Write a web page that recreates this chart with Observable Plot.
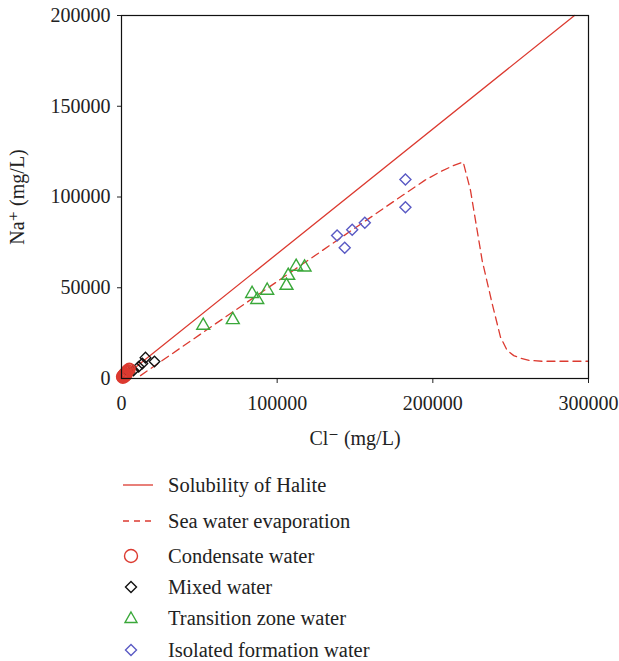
<!DOCTYPE html>
<html>
<head>
<meta charset="utf-8">
<script src="https://cdn.jsdelivr.net/npm/d3@7"></script>
<script src="https://cdn.jsdelivr.net/npm/@observablehq/plot@0.6"></script>
<style>
  html, body { margin: 0; padding: 0; background: #fff; }
  #wrap { position: relative; width: 619px; height: 661px; font-family: "Liberation Serif", "DejaVu Serif", serif; }
  #legend { position: absolute; left: 0; top: 0; width: 619px; }
  .row { position: absolute; left: 118px; height: 30px; display: flex; align-items: center; font-size: 20.5px; color: #222; }
  .row svg { width: 40px; height: 30px; margin-right: 10px; }
</style>
</head>
<body>
<div id="wrap"><div id="chart"></div><div id="legend"></div></div>
<script>
// ---- data ----
const xTicks = [0, 100000, 200000, 300000];
const yTicks = [0, 50000, 100000, 150000, 200000];

// Solubility of halite line (Cl, Na)
const haliteCl = [0, 291000];
const haliteNa = [0, 200000];

// Sea water evaporation curve (Cl, Na)
const seaCl = [12200, 60000, 120000, 170000, 195000, 205000, 214000, 219500, 224200, 231700, 238100, 243500, 247800, 252000, 256300, 262000, 270000, 300000];
const seaNa = [1600, 29900, 65200, 94700, 109300, 114000, 117600, 119300, 103600, 65000, 41300, 22700, 15400, 12600, 11200, 10000, 9500, 9500];

// Condensate water
const condCl = [600, 1200, 1800, 2500, 3200, 4000, 5000, 900, 2000, 3000];
const condNa = [1000, 1500, 2200, 2800, 3600, 4400, 5200, 600, 1200, 2000];

// Mixed water
const mixCl = [15400, 21200, 13400, 11000, 7700, 5100, 3200, 1900];
const mixNa = [11500, 9400, 8300, 6500, 4400, 3300, 2200, 1500];

// Transition zone water
const transCl = [52500, 71500, 83900, 87200, 93600, 106000, 107100, 112200, 117600];
const transNa = [29200, 32300, 46700, 43400, 48500, 51200, 56700, 61700, 61300];

// Isolated formation water
const isoCl = [182400, 182400, 156300, 148200, 138500, 143400];
const isoNa = [109600, 94400, 85800, 81900, 78800, 72000];

const legendLabels = ["Solubility of Halite", "Sea water evaporation", "Condensate water", "Mixed water", "Transition zone water", "Isolated formation water"];

// ---- build tables ----
const zip = (xs, ys) => xs.map((x, i) => ({cl: x, na: ys[i]}));
const halite = zip(haliteCl, haliteNa);
const sea = zip(seaCl, seaNa);
const cond = zip(condCl, condNa);
const mix = zip(mixCl, mixNa);
const trans = zip(transCl, transNa);
const iso = zip(isoCl, isoNa);

const RED = "#dc3a30";
const GREEN = "#3aa83a";
const BLUE = "#5a5ac4";

// square rotated 45° (equal-diagonal diamond)
const diamond = {
  draw(ctx, size) {
    const r = Math.sqrt(size / 2);
    ctx.moveTo(0, -r); ctx.lineTo(r, 0); ctx.lineTo(0, r); ctx.lineTo(-r, 0); ctx.closePath();
  }
};

const chart = Plot.plot({
  width: 619,
  height: 455,
  marginLeft: 121,
  marginRight: 31,
  marginTop: 15,
  marginBottom: 77,
  style: { fontFamily: "Liberation Serif, DejaVu Serif, serif", fontSize: "20px", color: "#222", background: "#fff" },
  x: { domain: [0, 300000], ticks: xTicks, tickFormat: d3.format("d"), tickSize: 5, tickPadding: 12, label: "Cl⁻ (mg/L)", labelAnchor: "center", labelArrow: "none", labelOffset: 66 },
  y: { domain: [0, 200000], ticks: yTicks, tickFormat: d3.format("d"), tickSize: 4, tickPadding: 7, label: "Na⁺ (mg/L)", labelAnchor: "center", labelArrow: "none", labelOffset: 112 },
  marks: [
    Plot.line(halite, {x: "cl", y: "na", stroke: RED, strokeWidth: 1.3}),
    Plot.line(sea, {x: "cl", y: "na", stroke: RED, strokeWidth: 1.3, strokeDasharray: "8,5"}),
    Plot.dot(trans, {x: "cl", y: "na", symbol: "triangle", r: 4.8, stroke: GREEN, strokeWidth: 1.4, fill: "none"}),
    Plot.dot(iso, {x: "cl", y: "na", symbol: diamond, r: 4.4, stroke: BLUE, strokeWidth: 1.4, fill: "none"}),
    Plot.dot(mix, {x: "cl", y: "na", symbol: diamond, r: 4.2, stroke: "#111", strokeWidth: 1.4, fill: "none"}),
    Plot.dot(cond, {x: "cl", y: "na", r: 5.6, stroke: RED, strokeWidth: 2, fill: "none"}),
    Plot.frame({stroke: "#111", strokeWidth: 1.2})
  ]
});
document.getElementById("chart").appendChild(chart);

// ---- legend ----
const rowCenters = [485, 521, 556, 587, 618, 650];
const legend = document.getElementById("legend");
const ns = "http://www.w3.org/2000/svg";
legendLabels.forEach((lab, i) => {
  const row = document.createElement("div");
  row.className = "row";
  row.style.top = (rowCenters[i] - 15) + "px";
  const svg = document.createElementNS(ns, "svg");
  svg.setAttribute("viewBox", "0 0 40 30");
  let el;
  if (i === 0 || i === 1) {
    el = document.createElementNS(ns, "line");
    el.setAttribute("x1", 5); el.setAttribute("x2", 35); el.setAttribute("y1", 15); el.setAttribute("y2", 15);
    el.setAttribute("stroke", RED); el.setAttribute("stroke-width", 1.3);
    if (i === 1) el.setAttribute("stroke-dasharray", "6,5");
  } else if (i === 2) {
    el = document.createElementNS(ns, "circle");
    el.setAttribute("cx", 13); el.setAttribute("cy", 15); el.setAttribute("r", 6.5);
    el.setAttribute("fill", "none"); el.setAttribute("stroke", RED); el.setAttribute("stroke-width", 1.4);
  } else if (i === 3 || i === 5) {
    el = document.createElementNS(ns, "path");
    el.setAttribute("d", "M13,9.5L18.5,15L13,20.5L7.5,15Z");
    el.setAttribute("fill", "none"); el.setAttribute("stroke", i === 3 ? "#111" : BLUE); el.setAttribute("stroke-width", 1.4);
  } else {
    el = document.createElementNS(ns, "path");
    el.setAttribute("d", "M13,9L19,19.5L7,19.5Z");
    el.setAttribute("fill", "none"); el.setAttribute("stroke", GREEN); el.setAttribute("stroke-width", 1.4);
  }
  svg.appendChild(el);
  row.appendChild(svg);
  const span = document.createElement("span");
  span.textContent = lab;
  row.appendChild(span);
  legend.appendChild(row);
});
</script>
</body>
</html>
